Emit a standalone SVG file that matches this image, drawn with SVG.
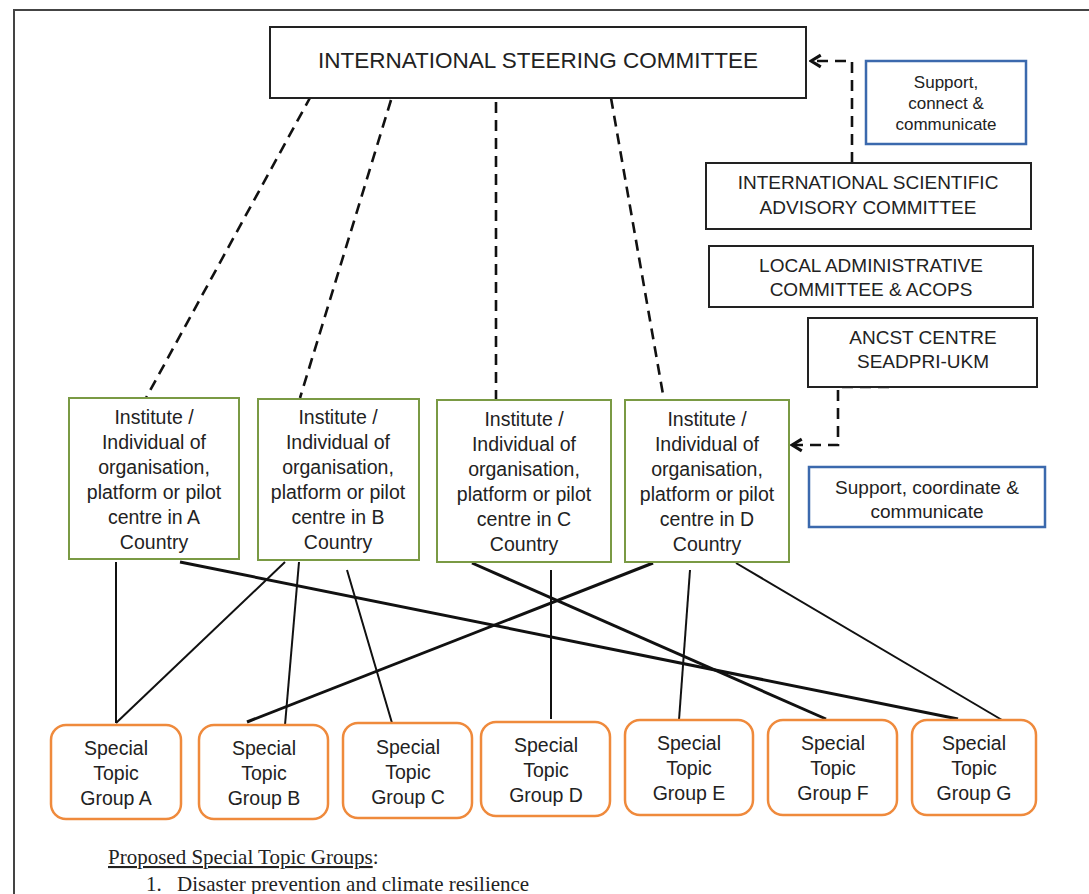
<svg xmlns="http://www.w3.org/2000/svg" width="1089" height="894" viewBox="0 0 1089 894">
<style>
.t{font-family:"Liberation Sans",Arial,sans-serif;fill:#222;text-anchor:middle}
.blk{fill:#fff;stroke:#222;stroke-width:2}
.grn{fill:#fff;stroke:#7a9a44;stroke-width:2}
.org{fill:#fff;stroke:#ef8a3c;stroke-width:2.5}
.blu{fill:#fff;stroke:#3b69ad;stroke-width:2.5}
.dash{fill:none;stroke:#111;stroke-width:2.6;stroke-dasharray:11 7}
.sol{fill:none;stroke:#111;stroke-width:2}
.thk{fill:none;stroke:#111;stroke-width:3}
.ser{font-family:"Liberation Serif","Times New Roman",serif;fill:#222;font-size:21px}
</style>
<defs>
<marker id="arr" viewBox="0 0 12 12" refX="10.5" refY="6" markerWidth="6" markerHeight="6" orient="auto" markerUnits="strokeWidth">
<path d="M3,1.5 L10.5,6 L3,10.5" fill="none" stroke="#111" stroke-width="2.4" stroke-linejoin="miter"/>
</marker>
</defs>
<rect width="1089" height="894" fill="#fff"/>
<g id="frame"><path d="M14,894 V10 H1089" fill="none" stroke="#444" stroke-width="2"/></g>

<g id="connectors">
<path class="dash" d="M311,96 L146,398"/>
<path class="dash" d="M391,100 L300,398"/>
<path class="dash" d="M496,102 L496,400"/>
<path class="dash" d="M611,98 L664,400"/>
<path class="dash" d="M852,163 V61 H811" marker-end="url(#arr)"/>
<path class="dash" d="M889,387 H838 V445 H792" marker-end="url(#arr)" stroke-dasharray="14 6 11 7"/>
<path class="sol" d="M116,562 L116,723"/>
<path class="thk" d="M180,562 L958,719"/>
<path class="sol" d="M285,562 L116,723"/>
<path class="sol" d="M299,562 L285,725"/>
<path class="sol" d="M347,570 L392,723"/>
<path class="thk" d="M472,563 L826,719"/>
<path class="sol" d="M551,570 L551,719"/>
<path class="thk" d="M653,563 L247,722"/>
<path class="sol" d="M690,570 L679,720"/>
<path class="sol" d="M736,563 L1002,720"/>
</g>

<g id="isc"><rect class="blk" x="270" y="27" width="536" height="71"/>
<text class="t" x="538" y="68" font-size="22.5">INTERNATIONAL STEERING COMMITTEE</text></g>

<g id="support1"><rect class="blu" x="866" y="61" width="160" height="83"/>
<text class="t" font-size="17"><tspan x="946" y="88">Support,</tspan><tspan x="946" y="109">connect &amp;</tspan><tspan x="946" y="130">communicate</tspan></text></g>

<g id="isac"><rect class="blk" x="706" y="163" width="325" height="66"/>
<text class="t" font-size="19"><tspan x="868" y="189">INTERNATIONAL SCIENTIFIC</tspan><tspan x="868" y="214">ADVISORY COMMITTEE</tspan></text></g>

<g id="lac"><rect class="blk" x="709" y="246" width="324" height="61"/>
<text class="t" font-size="19"><tspan x="871" y="272">LOCAL ADMINISTRATIVE</tspan><tspan x="871" y="296">COMMITTEE &amp; ACOPS</tspan></text></g>

<g id="ancst"><rect class="blk" x="808" y="318" width="229" height="69"/>
<text class="t" font-size="19"><tspan x="923" y="344">ANCST CENTRE</tspan><tspan x="923" y="368">SEADPRI-UKM</tspan></text></g>

<g id="support2"><rect class="blu" x="809" y="467" width="236" height="60"/>
<text class="t" font-size="19"><tspan x="927" y="494">Support, coordinate &amp;</tspan><tspan x="927" y="518">communicate</tspan></text></g>

<g id="instA"><rect class="grn" x="69" y="398" width="170" height="161"/>
<text class="t" font-size="19.5"><tspan x="154" y="424">Institute /</tspan><tspan x="154" y="449">Individual of</tspan><tspan x="154" y="474">organisation,</tspan><tspan x="154" y="499">platform or pilot</tspan><tspan x="154" y="524">centre in A</tspan><tspan x="154" y="549">Country</tspan></text></g>

<g id="instB"><rect class="grn" x="258" y="399" width="161" height="161"/>
<text class="t" font-size="19.5"><tspan x="338" y="424">Institute /</tspan><tspan x="338" y="449">Individual of</tspan><tspan x="338" y="474">organisation,</tspan><tspan x="338" y="499">platform or pilot</tspan><tspan x="338" y="524">centre in B</tspan><tspan x="338" y="549">Country</tspan></text></g>

<g id="instC"><rect class="grn" x="437" y="400" width="174" height="162"/>
<text class="t" font-size="19.5"><tspan x="524" y="426">Institute /</tspan><tspan x="524" y="451">Individual of</tspan><tspan x="524" y="476">organisation,</tspan><tspan x="524" y="501">platform or pilot</tspan><tspan x="524" y="526">centre in C</tspan><tspan x="524" y="551">Country</tspan></text></g>

<g id="instD"><rect class="grn" x="625" y="400" width="164" height="162"/>
<text class="t" font-size="19.5"><tspan x="707" y="426">Institute /</tspan><tspan x="707" y="451">Individual of</tspan><tspan x="707" y="476">organisation,</tspan><tspan x="707" y="501">platform or pilot</tspan><tspan x="707" y="526">centre in D</tspan><tspan x="707" y="551">Country</tspan></text></g>

<g id="stgA"><rect class="org" x="51" y="725" width="130" height="94" rx="15"/>
<text class="t" font-size="19.5"><tspan x="116" y="755">Special</tspan><tspan x="116" y="780">Topic</tspan><tspan x="116" y="805">Group A</tspan></text></g>
<g id="stgB"><rect class="org" x="199" y="725" width="129" height="94" rx="15"/>
<text class="t" font-size="19.5"><tspan x="264" y="755">Special</tspan><tspan x="264" y="780">Topic</tspan><tspan x="264" y="805">Group B</tspan></text></g>
<g id="stgC"><rect class="org" x="343" y="723" width="129" height="95" rx="15"/>
<text class="t" font-size="19.5"><tspan x="408" y="754">Special</tspan><tspan x="408" y="779">Topic</tspan><tspan x="408" y="804">Group C</tspan></text></g>
<g id="stgD"><rect class="org" x="481" y="722" width="129" height="94" rx="15"/>
<text class="t" font-size="19.5"><tspan x="546" y="752">Special</tspan><tspan x="546" y="777">Topic</tspan><tspan x="546" y="802">Group D</tspan></text></g>
<g id="stgE"><rect class="org" x="625" y="720" width="128" height="95" rx="15"/>
<text class="t" font-size="19.5"><tspan x="689" y="750">Special</tspan><tspan x="689" y="775">Topic</tspan><tspan x="689" y="800">Group E</tspan></text></g>
<g id="stgF"><rect class="org" x="768" y="720" width="129" height="95" rx="15"/>
<text class="t" font-size="19.5"><tspan x="833" y="750">Special</tspan><tspan x="833" y="775">Topic</tspan><tspan x="833" y="800">Group F</tspan></text></g>
<g id="stgG"><rect class="org" x="912" y="720" width="124" height="95" rx="15"/>
<text class="t" font-size="19.5"><tspan x="974" y="750">Special</tspan><tspan x="974" y="775">Topic</tspan><tspan x="974" y="800">Group G</tspan></text></g>

<g id="notes">
<text class="ser" x="108" y="864"><tspan text-decoration="underline">Proposed Special Topic Groups</tspan>:</text>
<text class="ser" x="146" y="891">1.</text>
<text class="ser" x="177" y="891">Disaster prevention and climate resilience</text>
</g>
</svg>
